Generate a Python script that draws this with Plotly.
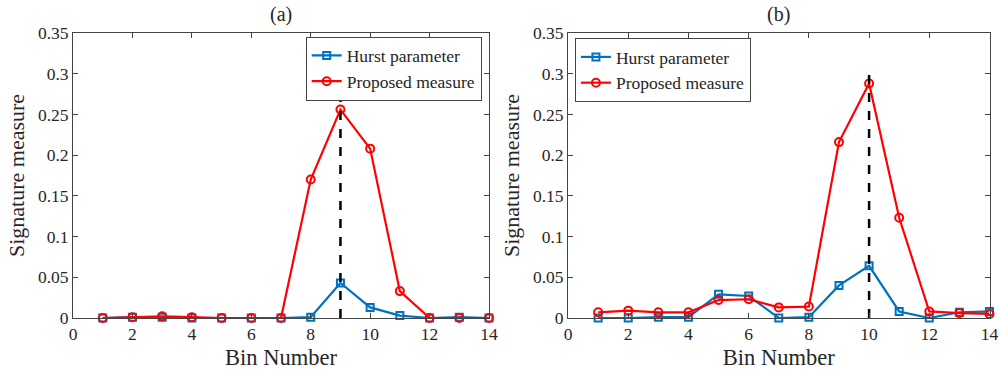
import plotly.graph_objects as go

bins = list(range(1, 15))
hurst_a = [0.0, 0.001, 0.001, 0.0, 0.0, 0.0, 0.0, 0.001, 0.043, 0.013, 0.003, 0.0, 0.001, 0.0]
prop_a = [0.0, 0.001, 0.002, 0.001, 0.0, 0.0, 0.0, 0.170, 0.256, 0.208, 0.033, 0.0, 0.0, 0.0]
hurst_b = [0.0, 0.0, 0.001, 0.001, 0.029, 0.027, 0.0, 0.001, 0.040, 0.064, 0.008, 0.0, 0.007, 0.008]
prop_b = [0.007, 0.009, 0.007, 0.007, 0.022, 0.023, 0.013, 0.014, 0.216, 0.288, 0.123, 0.008, 0.006, 0.005]
peak_bins = [9, 10]
peak_line_y = [0.0, 0.3]
panel_titles = ["(a)", "(b)"]
x_ticks = list(range(0, 15, 2))
y_ticks = [0, 0.05, 0.1, 0.15, 0.2, 0.25, 0.3, 0.35]
y_tick_text = ["0", "0.05", "0.1", "0.15", "0.2", "0.25", "0.3", "0.35"]

BLUE = "#0072BD"
RED = "#FF0000"
FONT = "Liberation Serif"
TXT = "#262626"

fig = go.Figure()
panels = [(hurst_a, prop_a, peak_bins[0], "x", "y", "legend"),
          (hurst_b, prop_b, peak_bins[1], "x2", "y2", "legend2")]
for hurst, prop, pk, xa, ya, lg in panels:
    fig.add_trace(go.Scatter(x=bins, y=hurst, mode="lines+markers", name="Hurst parameter",
                             line=dict(color=BLUE, width=2.2),
                             marker=dict(symbol="square-open", size=7, color=BLUE, line=dict(width=2)),
                             xaxis=xa, yaxis=ya, legend=lg, cliponaxis=False))
    fig.add_trace(go.Scatter(x=bins, y=prop, mode="lines+markers", name="Proposed measure",
                             line=dict(color=RED, width=2.2),
                             marker=dict(symbol="circle-open", size=8, color=RED, line=dict(width=2)),
                             xaxis=xa, yaxis=ya, legend=lg, cliponaxis=False))
    fig.add_trace(go.Scatter(x=[pk, pk], y=peak_line_y, mode="lines", showlegend=False,
                             line=dict(color="black", width=2.5, dash="dash"),
                             xaxis=xa, yaxis=ya))

ax_common = dict(showline=True, linecolor="#444444", linewidth=1, mirror="ticks",
                 ticks="inside", ticklen=5, tickcolor="#444444", showgrid=False, zeroline=False,
                 automargin=False,
                 tickfont=dict(family=FONT, size=17.5, color=TXT))
xdoms = [[0.0731, 0.4895], [0.5686, 0.9905]]
ydom = [0.1475, 0.9115]
for i, (xn, yn) in enumerate([("xaxis", "yaxis"), ("xaxis2", "yaxis2")]):
    fig.layout[xn] = dict(ax_common, domain=xdoms[i], range=[0, 14], tickvals=x_ticks,
                          anchor="y" if i == 0 else "y2", ticklabeloverflow="allow",
                          title=dict(text="Bin Number", font=dict(family=FONT, size=22.5, color=TXT), standoff=6))
    fig.layout[yn] = dict(ax_common, domain=ydom, range=[0, 0.35], tickvals=y_ticks, ticktext=y_tick_text,
                          anchor="x" if i == 0 else "x2",
                          title=dict(text="Signature measure", font=dict(family=FONT, size=22, color=TXT), standoff=7))
    xc = (xdoms[i][0] + xdoms[i][1]) / 2
    fig.add_annotation(text=panel_titles[i], x=xc, y=0.925, xref="paper", yref="paper",
                       xanchor="center", yanchor="bottom", showarrow=False,
                       font=dict(family=FONT, size=20, color=TXT))

leg_common = dict(bgcolor="white", bordercolor="#444444", borderwidth=1,
                  font=dict(family=FONT, size=17.5, color=TXT), tracegroupgap=0, itemwidth=30,
                  yanchor="top", xanchor="left")
fig.update_layout(
    width=999, height=373, margin=dict(l=0, r=0, t=0, b=0),
    plot_bgcolor="white", paper_bgcolor="white",
    legend=dict(leg_common, x=0.306, y=0.902),
    legend2=dict(leg_common, x=0.5755, y=0.898),
)
fig.write_html("out.html", config={"displayModeBar": False},
               post_script="document.body.style.margin='0px';")
